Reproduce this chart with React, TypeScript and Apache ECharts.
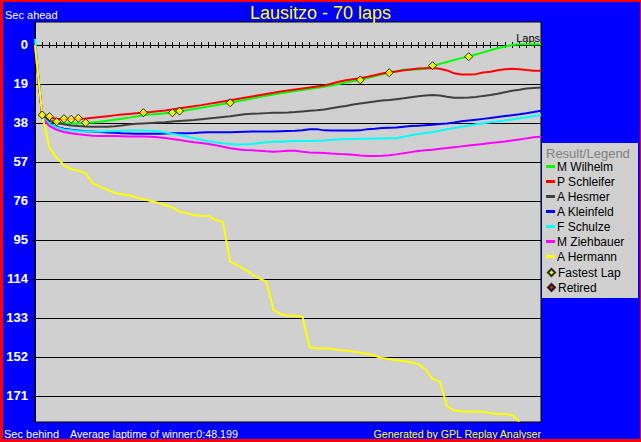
import React, { useEffect, useRef } from "react";
import * as echarts from "echarts";

// ---- data ----
const driverNames = ["M Wilhelm", "P Schleifer", "A Hesmer", "A Kleinfeld", "F Schulze", "M Ziehbauer", "A Hermann"];
const driverColors = ["#00ff00", "#ff0000", "#404040", "#0000ff", "#00ffff", "#ff00ff", "#ffff00"];

// seconds behind, per lap (index = lap number)
const wilhelm = [
  0, 34.3, 36.8, 37.6, 38.2, 38.3, 38.2, 38.0, 37.8, 37.4, 36.9, 36.4, 35.9,
  35.4, 34.8, 34.2, 33.9, 33.6, 33.3, 32.9, 32.3, 31.8, 31.2,
  30.6, 30.0, 29.4, 28.8, 28.1, 27.4, 26.8, 26.1, 25.4, 24.7,
  24.1, 23.5, 23.0, 22.4, 21.9, 21.4, 20.9, 20.4, 19.7, 19.0,
  18.3, 17.6, 16.9, 16.1, 15.2, 14.3, 13.5, 12.8, 12.1, 11.9,
  11.9, 11.6, 10.2, 9.2, 8.3, 7.3, 6.4, 5.6, 4.6, 3.6,
  2.6, 1.6, 0.7, 0, -0.3, -0.4, -0.4, -0.4,
];
const schleifer = [
  0, 34, 35.5, 35.9, 36.1, 36.1, 36.0, 35.8, 35.5, 35.1, 34.7, 34.3, 33.9,
  33.6, 33.3, 33.0, 32.7, 32.3, 31.9, 31.4, 30.8, 30.3, 29.8,
  29.3, 28.7, 28.1, 27.5, 26.9, 26.3, 25.7, 25.1, 24.5, 23.9,
  23.3, 22.7, 22.2, 21.7, 21.2, 20.7, 20.2, 19.7, 18.9, 17.9,
  17.2, 16.7, 16.2, 15.5, 14.7, 13.9, 13.3, 12.9, 12.3, 11.9,
  11.5, 11.3, 11.2, 11.6, 12.4, 13.8, 14.4, 14.4, 14.2, 13.4,
  13.0, 12.3, 11.8, 11.6, 11.8, 12.2, 12.5, 12.5,
];
const hesmer = [
  0, 34.5, 37, 38, 38.6, 39.2, 39.5, 39.7, 39.8, 39.8, 39.8, 39.6, 39.2,
  38.7, 38.4, 38.2, 38.0, 37.8, 37.6, 37.3, 37.0, 36.8, 36.6,
  36.2, 35.8, 35.5, 35.1, 34.7, 34.2, 33.8, 33.5, 33.4, 33.2,
  33.0, 33.0, 32.9, 32.7, 32.4, 32.1, 31.8, 31.4, 30.8, 30.2,
  29.7, 29.0, 28.5, 28.0, 27.5, 27.1, 26.8, 26.4, 26.0, 25.5,
  25.0, 24.6, 24.4, 24.6, 25.2, 25.7, 25.7, 25.6, 25.3, 24.8,
  24.4, 23.8, 23.0, 22.3, 21.8, 21.2, 20.9, 20.7,
];
const kleinfeld = [
  -1, 35, 38.5, 40, 40.8, 41.3, 41.7, 42.0, 42.2, 42.4, 42.6, 42.8, 43.0,
  43.1, 43.2, 43.2, 43.2, 43.2, 43.1, 43.0, 43.0, 43.0, 42.9,
  42.6, 42.5, 42.5, 42.5, 42.5, 42.4, 42.3, 42.2, 42.2, 42.2,
  42.1, 42.0, 41.9, 41.8, 41.6, 41.1, 41.0, 41.6, 41.7, 41.7,
  41.7, 41.7, 41.6, 41.0, 40.8, 40.4, 40.3, 40.2, 39.8, 39.5,
  39.3, 39.1, 38.9, 38.5, 38.2, 37.8, 37.2, 36.8, 36.4, 36.0,
  35.6, 35.1, 34.6, 34.2, 33.8, 33.3, 32.7, 32.0,
];
const schulze = [
  -3, 35, 38.5, 40.2, 41.2, 41.6, 41.9, 42.1, 42.2, 42.1, 42.0, 41.9, 41.8,
  41.7, 41.7, 41.7, 41.8, 42.0, 42.6, 43.3, 43.9, 44.6, 45.4,
  46.2, 46.9, 47.4, 47.9, 48.3, 48.5, 48.4, 48.2, 47.8, 47.4,
  47.2, 47.1, 46.9, 46.8, 46.8, 46.8, 46.7, 46.5, 46.2, 46.0,
  45.8, 45.8, 45.7, 45.7, 45.6, 45.6, 45.5, 45.4, 44.7, 44.0,
  43.4, 42.9, 42.4, 41.8, 41.1, 40.5, 39.8, 39.2, 38.6, 38.1,
  37.7, 37.3, 36.8, 36.3, 35.7, 35.2, 34.6, 34.1,
];
const ziehbauer = [
  0, 35.5, 39.5, 41.3, 42.4, 43.0, 43.5, 43.9, 44.2, 44.3, 44.3, 44.4, 44.5,
  44.6, 44.6, 44.6, 44.7, 44.9, 45.3, 45.8, 46.3, 46.9, 47.4,
  47.8, 48.2, 48.8, 49.6, 50.3, 50.8, 51.2, 51.3, 51.5, 51.8,
  52.0, 51.8, 51.5, 51.5, 52.0, 52.4, 52.5, 52.6, 52.9, 53.1,
  53.2, 53.5, 53.9, 54.1, 54.1, 54.0, 53.7, 53.3, 52.8, 52.2,
  51.7, 51.3, 51.0, 50.6, 50.2, 49.8, 49.4, 49.0, 48.6, 48.2,
  47.8, 47.4, 47.0, 46.5, 46.0, 45.5, 45.0, 44.7,
];
const hermann = [
  0, 34, 50, 55, 58.5, 60.6, 61.2, 62.5, 67.4, 69, 70.6, 72, 72.7,
  73.2, 74.2, 75.2, 76, 76.8, 78.1, 79, 81.2, 81.8, 83,
  83.2, 83.3, 85.3, 86.2, 105.6, 107.2, 109.3, 111.6, 113.7, 115.3,
  129.1, 131.2, 131.9, 131.9, 132.4, 147.4, 147.8, 147.8, 148, 148.6,
  148.9, 149.4, 149.9, 150.4, 151.4, 152.5, 153, 153.6, 154, 154.6,
  155.4, 158, 162.7, 164, 175.9, 178.2, 178.5, 178.7, 178.7, 178.7,
  179.4, 179.8, 179.8, 180.3, 183.4,
];
const driverValues = [wilhelm, schleifer, hesmer, kleinfeld, schulze, ziehbauer, hermann];

const fastestLapLaps = [1, 2, 3, 4, 5, 6, 7, 15, 19, 20, 27, 45, 49, 55, 60];
const fastestLapValues = [34.1, 34.9, 37.4, 35.9, 36.2, 35.7, 37.9, 33, 33, 32.2, 28.1, 17, 13.5, 10.1, 5.7];

const yTickValues = [0, 19, 38, 57, 76, 95, 114, 133, 152, 171];
const totalLaps = 70;

const FONT = "'Liberation Sans', Arial, Helvetica, sans-serif";

export default function App() {
  const ref = useRef<HTMLDivElement>(null);

  useEffect(() => {
    if (!ref.current) return;
    const chart = echarts.init(ref.current, null, { renderer: "svg" });

    const lineSeries = driverNames.map((name, k) => ({
      name,
      type: "line",
      data: driverValues[k].map((v, i) => [i, v]),
      showSymbol: false,
      symbol: "none",
      lineStyle: { width: 2, color: driverColors[k] },
      itemStyle: { color: driverColors[k] },
      xAxisIndex: 0,
      yAxisIndex: 0,
    }));

    const lapAxis = (position: string, extra: any = {}) => ({
      type: "value",
      min: 0,
      max: totalLaps,
      interval: 1,
      position,
      axisLine: { show: true, onZero: true, onZeroAxisIndex: 0, lineStyle: { color: "#000", width: 1 } },
      axisTick: { show: true, length: 3, inside: false, lineStyle: { color: "#000" } },
      axisLabel: { show: false },
      splitLine: { show: false },
      ...extra,
    });

    const option: any = {
      animation: false,
      backgroundColor: "#0000ff",
      textStyle: { fontFamily: FONT },
      title: {
        text: "Lausitzo - 70 laps",
        left: "center",
        top: 4,
        padding: 0,
        textStyle: { color: "#ffff00", fontSize: 18, fontWeight: "normal", fontFamily: FONT, lineHeight: 18 },
      },
      grid: {
        left: 35,
        top: 22,
        width: 506,
        height: 400,
        show: true,
        backgroundColor: "#d0d0d0",
        borderColor: "#000000",
        borderWidth: 1,
        containLabel: false,
      },
      xAxis: [
        lapAxis("bottom"),
        lapAxis("top", {
          name: "Laps",
          nameLocation: "end",
          nameGap: -1,
          nameTextStyle: { align: "right", verticalAlign: "bottom", fontSize: 11, color: "#000", fontFamily: FONT, padding: [0, 0, 1, 0] },
        }),
      ],
      yAxis: {
        type: "value",
        inverse: true,
        min: -11.2,
        max: 183.7,
        axisLine: { show: true, onZero: false, lineStyle: { color: "#000" } },
        axisTick: { show: true, customValues: yTickValues, length: 4, lineStyle: { color: "#000" } },
        axisLabel: { customValues: yTickValues, color: "#ffffff", fontWeight: "bold", fontSize: 13, margin: 7, fontFamily: FONT },
        splitLine: { show: true, lineStyle: { color: "#000", width: 1 } },
      },
      legend: [
        {
          orient: "vertical",
          left: 546,
          top: 159,
          padding: 0,
          itemWidth: 9,
          itemHeight: 3,
          itemGap: 0,
          icon: "rect",
          selectedMode: false,
          data: driverNames,
          textStyle: { fontSize: 12, lineHeight: 15, color: "#000", fontFamily: FONT, padding: [0, 0, 0, -3] },
        },
        {
          orient: "vertical",
          left: 547,
          top: 265,
          padding: 0,
          itemWidth: 7,
          itemHeight: 7,
          itemGap: 0,
          selectedMode: false,
          data: ["Fastest Lap", "Retired"],
          textStyle: { fontSize: 12, lineHeight: 15, color: "#000", fontFamily: FONT, padding: [0, 0, 0, -2] },
        },
      ],
      graphic: [
        { type: "rect", left: 542, top: 143, shape: { width: 96, height: 155 }, style: { fill: "#d0d0d0" }, z: 0 },
        { type: "text", x: 546, y: 153, style: { text: "Result/Legend", fill: "#808080", font: `13px ${FONT}`, verticalAlign: "middle" }, z: 5 },
        { type: "text", x: 5, y: 15, style: { text: "Sec ahead", fill: "#ffffff", font: `11px ${FONT}`, verticalAlign: "middle" } },
        { type: "text", x: 4, y: 434, style: { text: "Sec behind", fill: "#ffffff", font: `11px ${FONT}`, verticalAlign: "middle" } },
        { type: "text", x: 70, y: 434, style: { text: "Average laptime of winner:0:48.199", fill: "#ffffff", font: `10.7px ${FONT}`, verticalAlign: "middle" } },
        { type: "text", x: 541, y: 434, style: { text: "Generated by GPL Replay Analyser", fill: "#ffff00", font: `10.6px ${FONT}`, verticalAlign: "middle", align: "right" } },
      ],
      series: [
        ...lineSeries,
        {
          name: "Fastest Lap",
          type: "scatter",
          data: fastestLapLaps.map((l, i) => [l, fastestLapValues[i]]),
          symbol: "diamond",
          symbolSize: 8,
          itemStyle: { color: "#ffff00", borderColor: "#000", borderWidth: 1 },
          z: 5,
        },
        {
          name: "Retired",
          type: "scatter",
          data: [],
          symbol: "diamond",
          symbolSize: 8,
          itemStyle: { color: "#c00000", borderColor: "#000", borderWidth: 1 },
        },
      ],
    };

    chart.setOption(option);
    return () => chart.dispose();
  }, []);

  return (
    <div style={{ position: "absolute", left: 0, top: 0, width: 641, height: 442 }}>
      <div ref={ref} style={{ position: "absolute", left: 0, top: 0, width: 641, height: 442 }} />
      <div
        style={{
          position: "absolute",
          left: 0,
          top: 0,
          width: 641,
          height: 442,
          boxSizing: "border-box",
          borderStyle: "solid",
          borderColor: "#ff0000",
          borderWidth: "2px 1px 3px 3px",
          pointerEvents: "none",
        }}
      />
    </div>
  );
}
